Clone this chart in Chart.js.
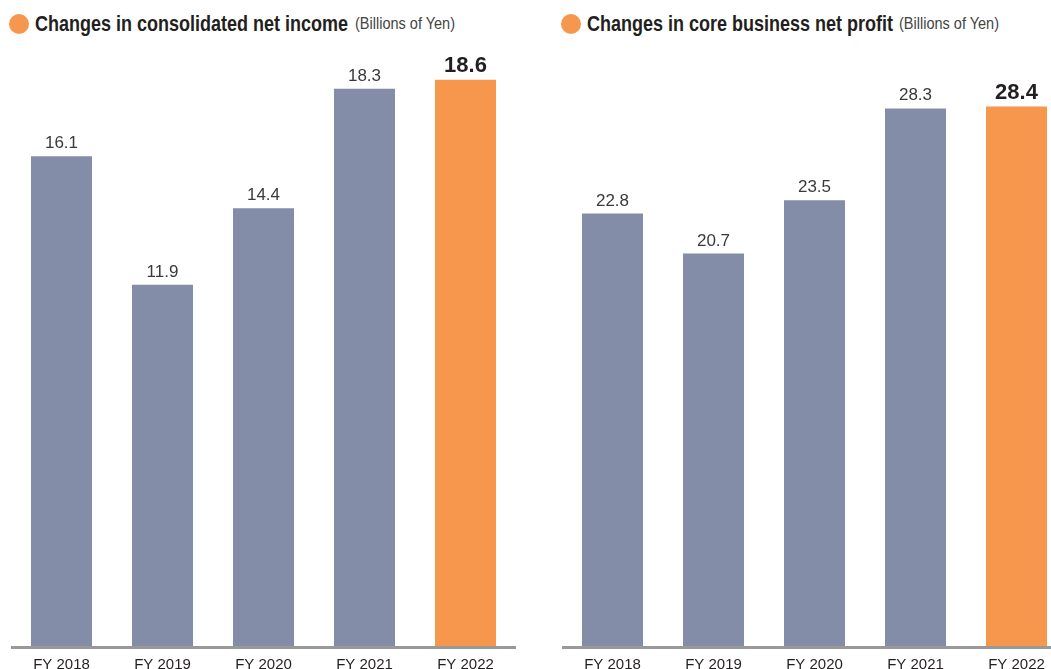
<!DOCTYPE html>
<html>
<head>
<meta charset="utf-8">
<script src="https://cdn.jsdelivr.net/npm/chart.js@4.4.0/dist/chart.umd.min.js"></script>
<style>
    html, body { margin: 0; padding: 0; background: #fff; overflow: hidden; width: 1051px; height: 669px; }
    .box { position: absolute; top: 0; height: 680px; }
    .dot { position: absolute; top: 14px; width: 20px; height: 20px; border-radius: 50%; background: #f7964d; }
    .fit { position: absolute; white-space: nowrap; font-family: "Liberation Sans", Arial, sans-serif; transform-origin: 0 0; }
    .main { top: 11px; font-weight: bold; font-size: 22px; color: #231f20; }
    .unit { top: 15px; font-size: 16px; color: #444; }
</style>
</head>
<body>
<div class="dot" style="left:9px"></div>
<span class="fit main" data-w="313" style="left:35px">Changes in consolidated net income</span>
<span class="fit unit" data-w="100" style="left:355px">(Billions of Yen)</span>
<div class="dot" style="left:561px"></div>
<span class="fit main" data-w="306" style="left:587px">Changes in core business net profit</span>
<span class="fit unit" data-w="100" style="left:899px">(Billions of Yen)</span>
<div class="box" style="left:0; width:525px"><canvas id="net-income"></canvas></div>
<div class="box" style="left:551px; width:525px"><canvas id="core-profit"></canvas></div>
<script>
const years = ['FY 2018', 'FY 2019', 'FY 2020', 'FY 2021', 'FY 2022']
const netIncome = [16.1, 11.9, 14.4, 18.3, 18.6]
const coreProfit = [22.8, 20.7, 23.5, 28.3, 28.4]

const grey = '#838da8'
const orange = '#f7964d'

// squeeze the title text to the condensed width of the original
for (let el of document.querySelectorAll('.fit')) {
    const w = el.getBoundingClientRect().width
    el.style.transform = 'scaleX(' + (Number(el.dataset.w) / w) + ')'
}

// labels above bars, last one bold and bigger
const valueLabels = {
    id: 'valueLabels',
    afterDatasetsDraw(chart) {
        const ctx = chart.ctx
        const meta = chart.getDatasetMeta(0)
        const data = chart.data.datasets[0].data
        ctx.save()
        ctx.textAlign = 'center'
        ctx.textBaseline = 'alphabetic'
        meta.data.forEach(function (bar, i) {
            const last = i == data.length - 1
            ctx.font = last ? 'bold 22px "Liberation Sans", Arial, sans-serif' : '17px "Liberation Sans", Arial, sans-serif'
            ctx.fillStyle = last ? '#231f20' : '#3a3a3a'
            ctx.fillText(data[i].toFixed(1), bar.x, bar.y - 8)
        })
        // base line
        const a = chart.chartArea
        ctx.fillStyle = '#999'
        ctx.fillRect(a.left, a.bottom - 3, a.right - a.left, 3)
        ctx.restore()
    }
}

function makeChart(id, values, max) {
    const colors = values.map(function (v, i) { return i == values.length - 1 ? orange : grey })
    return new Chart(document.getElementById(id), {
        type: 'bar',
        data: {
            labels: years,
            datasets: [{
                data: values,
                backgroundColor: colors,
                borderWidth: 0,
                barPercentage: 0.604,
                categoryPercentage: 1
            }]
        },
        options: {
            responsive: true,
            maintainAspectRatio: false,
            animation: false,
            layout: { padding: { left: 11, right: 9, top: 50, bottom: 0 } },
            plugins: { legend: { display: false }, tooltip: { enabled: false } },
            scales: {
                x: {
                    grid: { display: false, drawTicks: false },
                    border: { display: false },
                    afterFit: function (scale) { scale.height = 31 },
                    ticks: {
                        color: '#231f20',
                        padding: 7,
                        font: { family: '"Liberation Sans", Arial, sans-serif', size: 15 }
                    }
                },
                y: {
                    display: false,
                    min: 0,
                    max: max
                }
            }
        },
        plugins: [valueLabels]
    })
}

makeChart('net-income', netIncome, 19.57)
makeChart('core-profit', coreProfit, 31.36)
</script>
</body>
</html>
